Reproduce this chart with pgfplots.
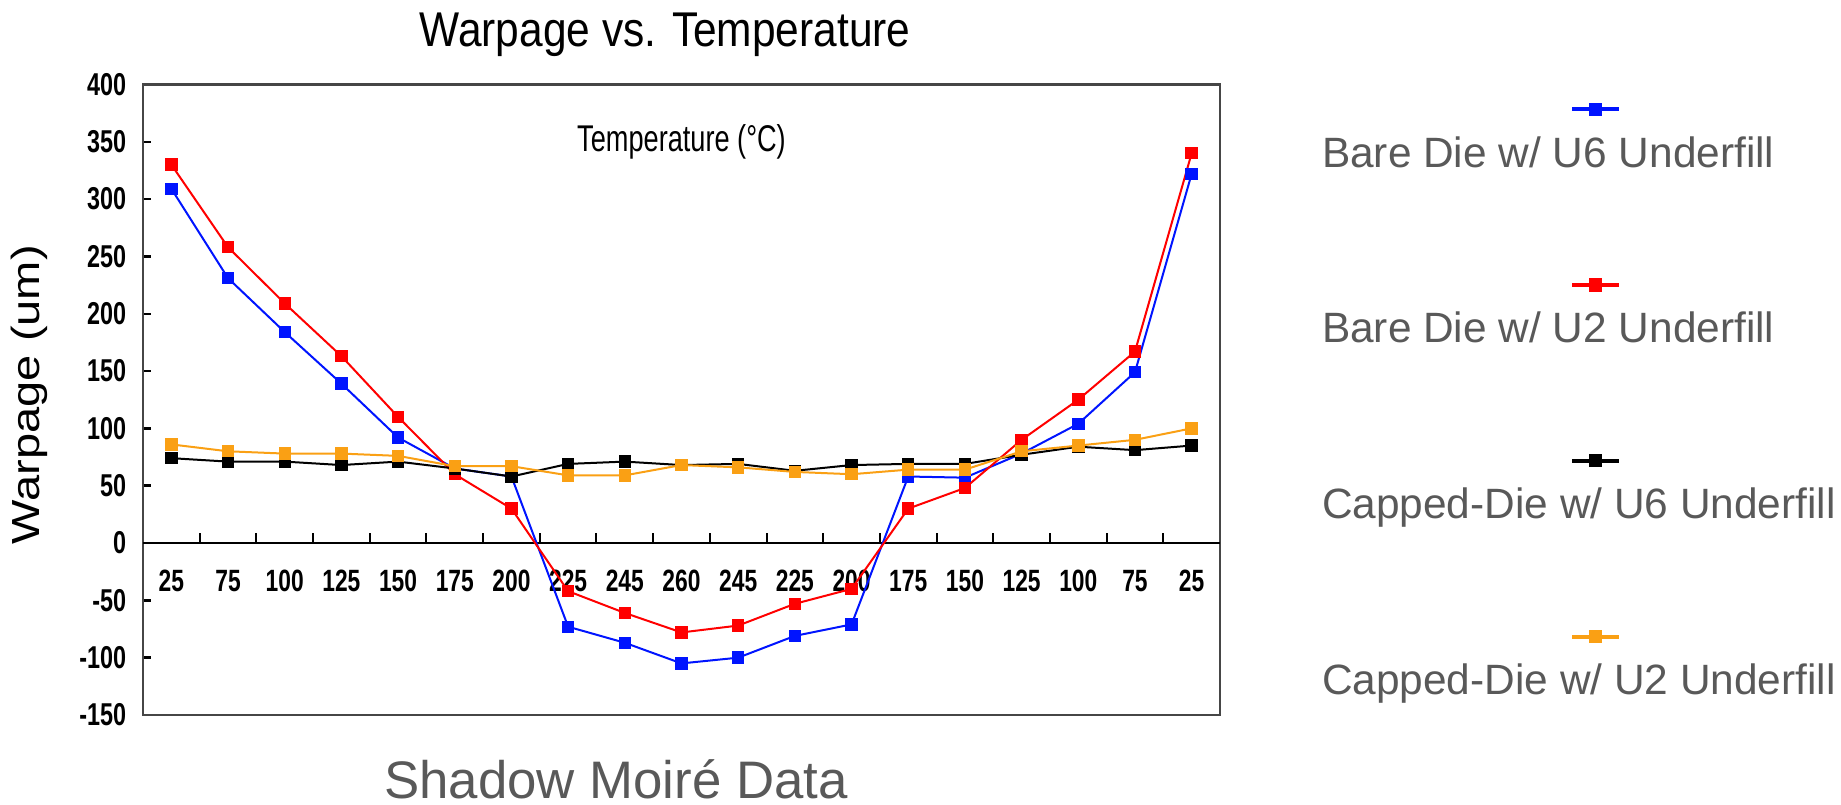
\documentclass[border=0pt]{standalone}
\usepackage{fontspec}
\setmainfont{Liberation Sans}
\newfontfamily\tickfont{Liberation Sans}[FakeStretch=0.74]
\newfontfamily\ylabfont{Liberation Sans}[FakeStretch=1.2]
\newfontfamily\tempfont{Liberation Sans}[FakeStretch=0.73]
\newfontfamily\titlefont{Liberation Sans}[FakeStretch=0.87]
\usepackage{pgfplots}
\pgfplotsset{compat=1.18}
\definecolor{cblue}{RGB}{0,20,255}
\definecolor{cred}{RGB}{255,0,0}
\definecolor{corange}{RGB}{250,160,20}
\definecolor{txtgray}{RGB}{89,89,89}
\definecolor{framegray}{RGB}{70,70,70}

\pgfplotstableread{
i blue red black orange
0 309 330 74 86
1 231 258 71 80
2 184 209 71 78
3 139 163 68 78
4 92 110 71 76
5 65 60 65 67
6 58 30 58 67
7 -73 -42 69 59
8 -87 -61 71 59
9 -105 -78 68 68
10 -100 -72 69 66
11 -81 -53 63 62
12 -71 -40 68 60
13 58 30 69 64
14 57 48 69 64
15 78 90 77 80
16 104 125 84 85
17 149 167 81 90
18 322 340 85 100
}\datatable

\begin{document}
\begin{tikzpicture}
\useasboundingbox (0,0) rectangle (460.25pt,201pt);
\begin{axis}[
  at={(35.75pt,22.25pt)}, anchor=south west,
  scale only axis, width=269.25pt, height=157.65pt,
  xmin=-0.5, xmax=18.5, ymin=-150, ymax=400,
  axis line style={framegray, line width=0.6pt},
  xtick={0,...,18},
  xticklabels={25,75,100,125,150,175,200,225,245,260,245,225,200,175,150,125,100,75,25},
  xtick style={draw=none},
  xticklabel style={anchor=center, yshift=33.5pt, inner sep=0pt, font=\tickfont\bfseries\fontsize{7.7}{8}\selectfont},
  ytick={-150,-100,...,400},
  yticklabels={-150,-100,-50,0,50,100,150,200,250,300,350,400},
  ytick pos=left, tick align=inside, major tick length=2pt,
  ytick style={black, line width=0.6pt},
  yticklabel style={anchor=east, inner sep=0pt, xshift=-4pt, font=\tickfont\bfseries\fontsize{7.9}{8}\selectfont},
  title={Warpage vs. Temperature},
  every axis title/.style={at={(axis description cs:0.4847,1.0598)}, anchor=base, inner sep=0pt, font=\titlefont\fontsize{12.2}{14}\selectfont},
  xlabel={Shadow Moiré Data},
  xlabel style={at={(axis description cs:0.4392,-0.1325)}, anchor=base, inner sep=0pt, text=txtgray, font=\fontsize{13.2}{15}\selectfont},
  ylabel={Warpage (um)},
  ylabel style={at={(axis description cs:-0.1058,0.508)}, anchor=center, inner sep=0pt, font=\ylabfont\fontsize{9.8}{11}\selectfont},
  legend style={at={(axis description cs:1.0929,0.917)}, anchor=north west, draw=none, fill=none, inner sep=0pt, outer sep=0pt, /tikz/column sep=0pt, /tikz/row sep=36.1pt, font=\fontsize{10.6}{12}\selectfont, text=txtgray, nodes={inner sep=0pt, text height=7.6pt, text depth=0pt, anchor=base west}},
  legend cell align=left,
  legend image code/.code={
     \draw[overlay, #1, line width=1pt] (62.75pt,14.5pt) -- (74.5pt,14.5pt);
     \draw[overlay, #1, only marks, mark size=1.4pt] plot coordinates {(68.6pt,14.5pt)};
     \path (0pt,0pt);
  },
  every axis plot/.append style={line width=0.5pt, mark=square*, mark size=1.3pt},
]
\draw[black, line width=0.6pt] (axis cs:-0.5,0) -- (axis cs:18.5,0);
\pgfplotsinvokeforeach{0.5,1.5,...,17.5}{\draw[black, line width=0.5pt] (axis cs:#1,0) -- ++(0pt,2.4pt);}
\node[font=\tempfont\fontsize{9.3}{10}\selectfont, anchor=center] at (axis cs:9,350) {Temperature (°C)};
\addplot[cblue] table[x=i, y=blue] {\datatable};
\addlegendentry{Bare Die w/ U6 Underfill}
\addplot[cred] table[x=i, y=red] {\datatable};
\addlegendentry{Bare Die w/ U2 Underfill}
\addplot[black] table[x=i, y=black] {\datatable};
\addlegendentry{Capped-Die w/ U6 Underfill}
\addplot[corange] table[x=i, y=orange] {\datatable};
\addlegendentry{Capped-Die w/ U2 Underfill}
\end{axis}
\end{tikzpicture}
\end{document}
